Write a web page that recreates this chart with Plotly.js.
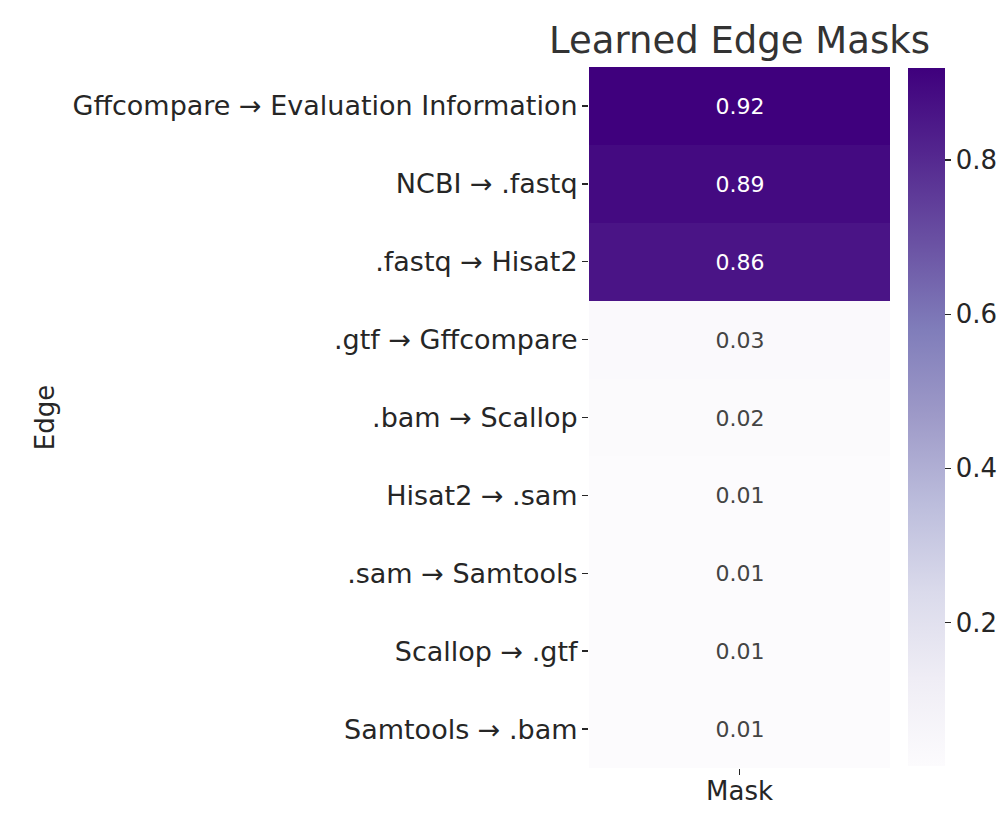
<!DOCTYPE html>
<html>
<head>
<meta charset="utf-8">
<script src="https://cdn.plot.ly/plotly-3.0.1.min.js"></script>
<style>
  html, body { margin: 0; padding: 0; background: #fff; }
  #chart { width: 997px; height: 830px; }
</style>
</head>
<body>
<div id="chart"></div>
<script>
// edges, top row first
const edges = [
    'Gffcompare → Evaluation Information',
    'NCBI → .fastq',
    '.fastq → Hisat2',
    '.gtf → Gffcompare',
    '.bam → Scallop',
    'Hisat2 → .sam',
    '.sam → Samtools',
    'Scallop → .gtf',
    'Samtools → .bam'
];
const maskValues = [0.919, 0.891, 0.862, 0.028, 0.021, 0.014, 0.013, 0.013, 0.013];
const columns = ['Mask'];
const colorbarTicks = [0.2, 0.4, 0.6, 0.8];

// matplotlib "Purples"
const purples = ['#fcfbfd', '#efedf5', '#dadaeb', '#bcbddc', '#9e9ac8',
                 '#807dba', '#6a51a3', '#54278f', '#3f007d'];
const colorscale = purples.map((c, i) => [i / (purples.length - 1), c]);

const fontFamily = 'DejaVu Sans, sans-serif';
const textColor = '#262626';
const labelSize = 27;

const trace = {
    type: 'heatmap',
    x: columns,
    y: edges,
    z: maskValues.map(v => [v]),
    colorscale: colorscale,
    xgap: 0,
    ygap: 0,
    texttemplate: '%{z:.2f}',
    textfont: { family: fontFamily, size: 22 },
    hoverinfo: 'skip',
    colorbar: {
        x: 1.06,
        xanchor: 'left',
        xpad: 0,
        y: 0.5,
        yanchor: 'middle',
        ypad: 0,
        len: 0.996,
        thickness: 37,
        outlinewidth: 0,
        ticks: 'outside',
        ticklen: 6,
        tickwidth: 1.5,
        tickcolor: textColor,
        tickvals: colorbarTicks,
        ticktext: colorbarTicks.map(v => v.toFixed(1)),
        tickfont: { family: fontFamily, size: 26, color: textColor }
    }
};

const layout = {
    width: 997,
    height: 830,
    margin: { l: 589, r: 107, t: 67, b: 62, autoexpand: false },
    paper_bgcolor: '#ffffff',
    plot_bgcolor: '#ffffff',
    font: { family: fontFamily, color: textColor },
    title: {
        text: 'Learned Edge Masks',
        font: { family: fontFamily, size: 37, color: '#333333' },
        x: 0.5,
        xref: 'paper',
        xanchor: 'center',
        y: 1 - 40 / 830,
        yref: 'container',
        yanchor: 'middle'
    },
    xaxis: {
        showgrid: false,
        zeroline: false,
        showline: false,
        ticks: 'outside',
        ticklen: 6,
        tickwidth: 1.5,
        tickcolor: textColor,
        ticklabelstandoff: -6,
        tickfont: { family: fontFamily, size: 26, color: textColor }
    },
    yaxis: {
        autorange: 'reversed',
        showgrid: false,
        zeroline: false,
        showline: false,
        ticks: 'outside',
        ticklen: 6,
        tickwidth: 1.5,
        tickcolor: textColor,
        ticklabelstandoff: -1,
        tickfont: { family: fontFamily, size: labelSize, color: textColor },
        title: {
            text: 'Edge',
            font: { family: fontFamily, size: 26, color: textColor },
            standoff: 10
        }
    }
};

Plotly.newPlot('chart', [trace], layout, { staticPlot: true });
</script>
</body>
</html>
